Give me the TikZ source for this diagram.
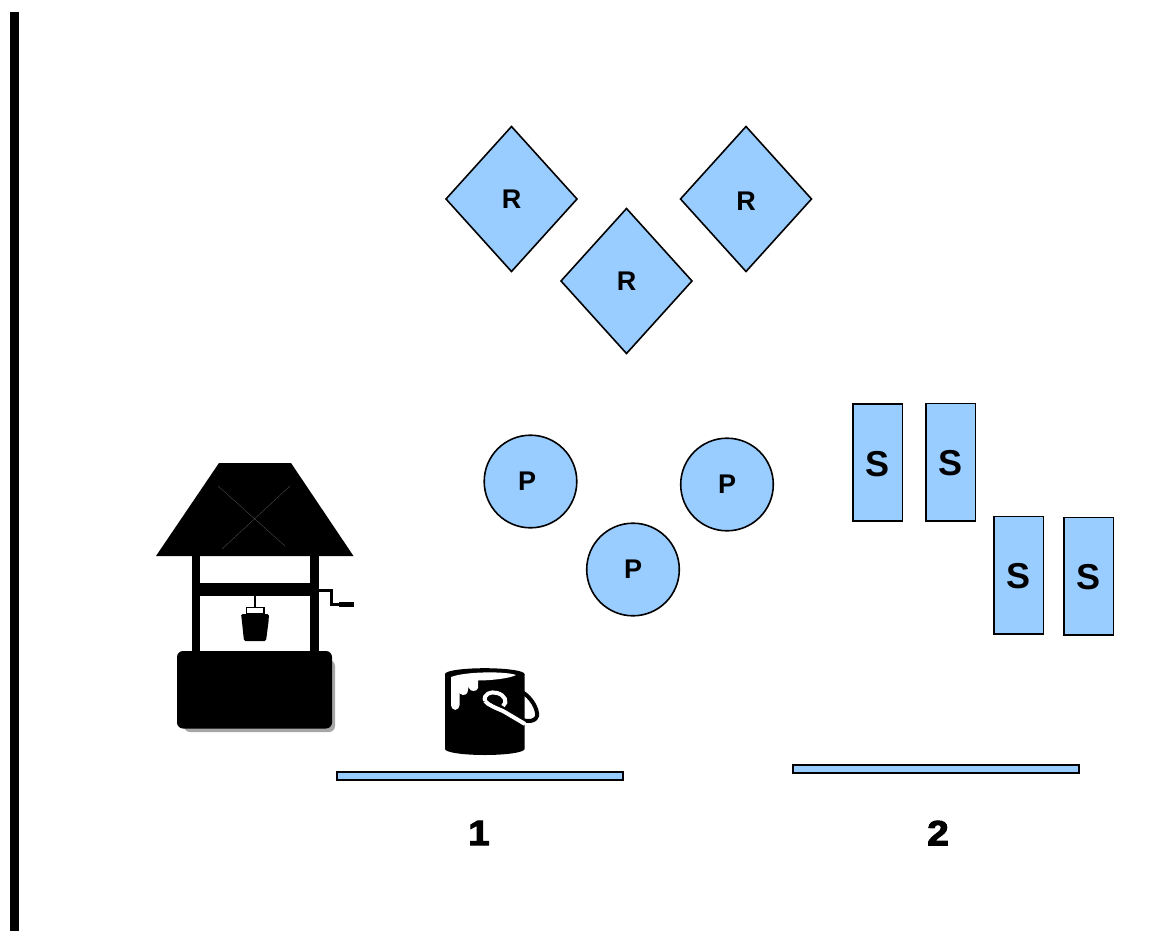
\documentclass[tikz,border=0pt]{standalone}
\usepackage{graphicx}
\usepackage{fontspec}
\setmainfont{Liberation Sans}
\newfontfamily\heavyfont[BoldFont={Liberation Sans Bold},BoldFeatures={FakeBold=3}]{Liberation Sans}
\usetikzlibrary{shapes.geometric}
\definecolor{shapeblue}{HTML}{99CCFF}
\newcommand{\widedigit}[1]{\scalebox{1.1}[1]{#1}}
\tikzset{
  every node/.style={inner sep=0pt,outer sep=0pt},
  blue shape/.style={draw=black,fill=shapeblue,line width=1.6pt},
  rdiamond/.style={blue shape,diamond,aspect=0.904,minimum width=131pt,minimum height=145pt},
  pcircle/.style={blue shape,circle,minimum size=92.6pt},
  srect/.style={blue shape,rectangle,minimum width=49.6pt,minimum height=117.4pt},
  groundbar/.style={blue shape,rectangle,minimum width=285.6pt,minimum height=7.6pt},
  rtext/.style={font=\fontsize{27}{27}\selectfont\bfseries},
  stext/.style={font=\fontsize{36}{36}\selectfont\bfseries,yshift=-1.5pt},
  numtext/.style={font=\heavyfont\fontsize{35}{35}\selectfont\bfseries,text=black},
}
\begin{document}
\begin{tikzpicture}[x=1pt,y=-1pt]
\useasboundingbox (0,0) rectangle (1154,931);
\fill[white] (0,0) rectangle (1154,931);
% left rule
\fill[black] (10,12) rectangle (19,931);
% diamonds
\node[rdiamond,label={[rtext]center:R}] (r1) at (511.5,199) {};
\node[rdiamond,label={[rtext]center:R}] (r2) at (626.5,281) {};
\node[rdiamond,label={[rtext,yshift=-2pt]center:R}] (r3) at (746,199) {};
% circles
\node[pcircle,label={[rtext,xshift=-3.5pt]center:P}] (p1) at (530.5,481.5) {};
\node[pcircle,label={[rtext]center:P}] (p2) at (727,484.5) {};
\node[pcircle,label={[rtext]center:P}] (p3) at (633,569.5) {};
% rectangles
\node[srect,label={[stext]center:S}] (s1) at (877.5,462.5) {};
\node[srect,label={[stext]center:S}] (s2) at (950.5,462) {};
\node[srect,label={[stext]center:S}] (s3) at (1018.5,575) {};
\node[srect,label={[stext]center:S}] (s4) at (1088.5,576) {};
% bars and numbers
\node[groundbar] (b1) at (480,776) {};
\node[groundbar] (b2) at (936,769) {};
\node[numtext] (n1) at (479,833) {\widedigit{1}};
\node[numtext] (n2) at (938,833) {\widedigit{2}};
% well
\begin{scope}
  \fill[black!35,rounded corners=6pt] (184,660) rectangle (335,732);
  \fill[black,rounded corners=6pt] (177,651) rectangle (332,728.5);
  \fill[black] (192,556) rectangle (200,652);
  \fill[black] (310,556) rectangle (319,652);
  \fill[black] (192,583) rectangle (319,596);
  \fill[black] (219,463) -- (291,463) -- (353.5,556) -- (156,556) -- cycle;
  \draw[black!65,line width=.3pt] (218,486) -- (285,546) (290,486) -- (222,549);
  % rope, bucket
  \draw[black,line width=1.6pt] (255,596) -- (255,607);
  \draw[black,line width=1.2pt] (246.5,607.5) rectangle (264,614);
  \fill[black,rounded corners=1.5pt] (241,614) -- (269,614) -- (268.5,622) -- (266,641) -- (244,641) -- (242,622) -- cycle;
  % crank
  \draw[black,line width=3pt] (319,590) -- (331.5,590) -- (331.5,604.5) -- (340,604.5);
  \fill[black] (339,602) rectangle (354,607);
\end{scope}
% paint bucket
\begin{scope}
  \draw[black,line width=4pt] (522,692) .. controls (531,697) and (538,709) .. (537,716) .. controls (535,723) and (524,722) .. (516,717);
  \fill[black] (445,674) -- (524.5,674) -- (524.5,749) arc[start angle=0,end angle=180,x radius=39.75,y radius=6] -- cycle;
  \fill[black] (484.75,674) ellipse[x radius=39.75,y radius=5.8];
  \fill[white] (451,677) .. controls (465,671.5) and (505,671) .. (516,675) .. controls (510,678.5) and (490,680.5) .. (478,680.5)
    -- (478,688) .. controls (477,692) and (470,692) .. (469,688) -- (468.5,686) .. controls (468,692) and (467.5,695) .. (463,695)
    .. controls (460,695) and (459.5,693) .. (459.5,691) -- (459.5,705) .. controls (458.5,711.5) and (452,711.5) .. (451,705) -- cycle;
  \draw[white,line width=4pt] (485,701) .. controls (483,694) and (491,691) .. (497,693) .. controls (505,695) and (508,702) .. (503,706);
  \draw[white,line width=4pt] (485,701) .. controls (488,705) and (496,708) .. (503,711) -- (525,724);
\end{scope}
\end{tikzpicture}
\end{document}
